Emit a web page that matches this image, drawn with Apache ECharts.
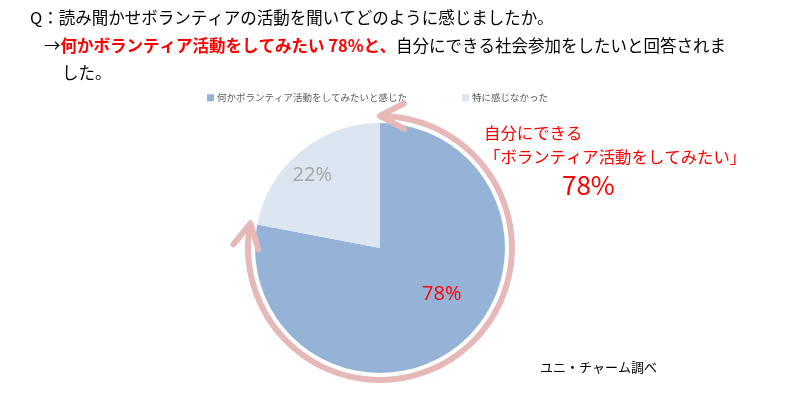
<!DOCTYPE html>
<html><head><meta charset="utf-8">
<script src="https://cdn.jsdelivr.net/npm/echarts@6/dist/echarts.min.js"></script>
<style>html,body{margin:0;padding:0;background:#fff}#c{width:789px;height:394px}</style>
</head><body><div id="c"></div>
<script>
const categories = ['何かボランティア活動をしてみたいと感じた', '特に感じなかった'];
const values = [78, 22];
const sliceColors = ['#95b3d7', '#dce6f1'];
const labelColors = ['#ff0000', '#a6a6a6'];

const FONT = '"Noto Sans CJK JP", sans-serif';
const cx = 380, cy = 248, R = 125;
const ringR = [129, 135];
const arcR = (ringR[0] + ringR[1]) / 2;
const ringColor = '#e6b9b8';

const chart = echarts.init(document.getElementById('c'));

const total = values.reduce((a, b) => a + b, 0);
const endFrac = values[0] / total;
function head(phiDeg, dir) {
  const phi = phiDeg * Math.PI / 180;
  const P = [cx + arcR * Math.cos(phi), cy + arcR * Math.sin(phi)];
  let d = [-Math.sin(phi), Math.cos(phi)];
  if (dir < 0) d = [-d[0], -d[1]];
  const L = 27, a = 28 * Math.PI / 180;
  const rot = (v, t) => [v[0] * Math.cos(t) - v[1] * Math.sin(t), v[0] * Math.sin(t) + v[1] * Math.cos(t)];
  const w1 = rot(d, a), w2 = rot(d, -a);
  return {
    type: 'polyline', z: 10,
    shape: { points: [[P[0] - L * w1[0], P[1] - L * w1[1]], P, [P[0] - L * w2[0], P[1] - L * w2[1]]] },
    style: { stroke: ringColor, lineWidth: 6, fill: null, lineCap: 'round', lineJoin: 'round' }
  };
}
const startPhi = -90;
const endPhi = -90 + 360 * endFrac;

chart.setOption({
  animation: false,
  legend: {
    data: categories,
    left: 202, top: 88,
    icon: 'rect', itemWidth: 7, itemHeight: 7, itemGap: 55,
    textStyle: { fontSize: 9.5, color: '#595959', fontFamily: FONT, padding: [0, 0, 0, -2] }
  },
  series: [
    {
      type: 'pie', center: [cx, cy], radius: [0, R], startAngle: 90, clockwise: true,
      silent: true,
      data: categories.map((n, i) => ({
        name: n, value: values[i],
        itemStyle: { color: sliceColors[i] },
        label: { color: labelColors[i] }
      })),
      itemStyle: { borderColor: '#fff', borderWidth: 0 },
      label: {
        show: true, position: 'inside', formatter: '{c}%',
        fontSize: 20, fontFamily: '"Open Sans", sans-serif'
      },
      labelLine: { show: false },
      labelLayout: function (p) {
        if (p.dataIndex === 0) return { dx: 20, dy: -4 };
        return { dx: -26, dy: -22 };
      }
    },
    {
      type: 'pie', center: [cx, cy], radius: ringR, startAngle: 90, clockwise: true,
      silent: true, legendHoverLink: false,
      data: values.map((v, i) => ({
        name: 'ring' + i, value: v,
        itemStyle: { color: i === 0 ? ringColor : 'rgba(0,0,0,0)', borderRadius: i === 0 ? 3 : 0 }
      })),
      label: { show: false }, labelLine: { show: false }
    }
  ],
  graphic: [
    head(startPhi, -1),
    head(endPhi, 1),
    { type: 'text', left: 30, top: 9, style: { text: 'Q：読み聞かせボランティアの活動を聞いてどのように感じましたか。', font: '16.5px ' + FONT, fill: '#000' } },
    { type: 'text', left: 44, top: 37, style: {
      text: '{k|→}{r|何かボランティア活動をしてみたい 78%と、}{k|自分にできる社会参加をしたいと回答されま}',
      rich: {
        k: { font: '16.5px ' + FONT, fill: '#000' },
        r: { font: 'bold 16.5px ' + FONT, fill: '#ff0000' }
      } } },
    { type: 'text', left: 62, top: 64, style: { text: 'した。', font: '16.5px ' + FONT, fill: '#000' } },
    { type: 'text', left: 484, top: 121, style: { text: '自分にできる\n「ボランティア活動をしてみたい」', font: '16.4px ' + FONT, fill: '#ff0000', lineHeight: 24 } },
    { type: 'text', left: 562, top: 172, style: { text: values[0] + '%', font: '26px ' + FONT, fill: '#ff0000' } },
    { type: 'text', left: 540, top: 361, style: { text: 'ユニ・チャーム調べ', font: '13px ' + FONT, fill: '#000' } }
  ]
});
</script></body></html>
